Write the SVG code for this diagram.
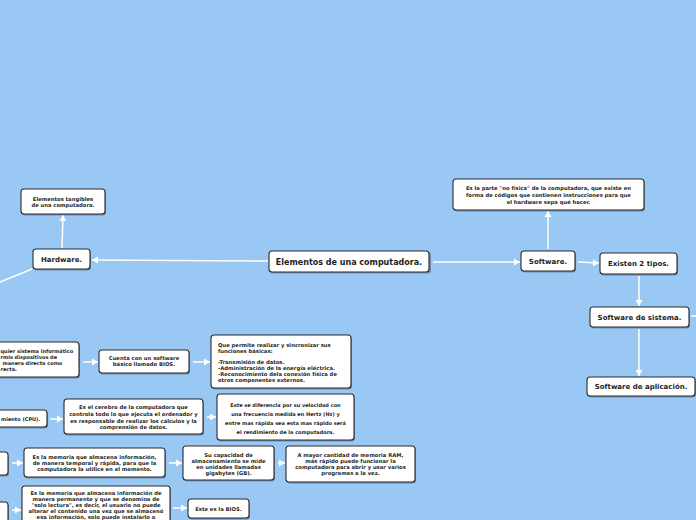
<svg xmlns="http://www.w3.org/2000/svg" width="696" height="520" viewBox="0 0 696 520">
<style>
.bx{fill:#fff;stroke:#2a2a2a;stroke-width:1.1}
.sh{fill:#3a4a5a;opacity:.45}
.t{font-family:"DejaVu Sans",Verdana,sans-serif;font-weight:bold;fill:#1e1e1e}
.s{font-size:5.25px;text-anchor:middle}
.v{font-size:5px}
.m{font-size:7px;text-anchor:middle}
.l{font-size:8px;text-anchor:middle}
.c line{stroke:#fff;stroke-width:1.5;fill:none}
</style>
<defs>
<marker id="ar" markerUnits="userSpaceOnUse" markerWidth="8" markerHeight="8" refX="6" refY="4" orient="auto">
<path d="M0,0.5 L6,4 L0,7.5 Z" fill="#fff"/>
</marker>
</defs>
<rect width="696" height="520" fill="#99C8F5"/>
<g class="c">
<line x1="268" y1="261" x2="92" y2="260" marker-end="url(#ar)"/>
<line x1="62" y1="248" x2="63" y2="215" marker-end="url(#ar)"/>
<line x1="32" y1="269" x2="0" y2="282"/>
<line x1="433" y1="262" x2="520" y2="262" marker-end="url(#ar)"/>
<line x1="548" y1="249" x2="548" y2="211" marker-end="url(#ar)"/>
<line x1="578" y1="262" x2="599" y2="263" marker-end="url(#ar)"/>
<line x1="639" y1="276" x2="639" y2="306" marker-end="url(#ar)"/>
<line x1="691" y1="316" x2="696" y2="316"/>
<line x1="639" y1="329" x2="639" y2="376" marker-end="url(#ar)"/>
<line x1="83" y1="362" x2="98" y2="362" marker-end="url(#ar)"/>
<line x1="193" y1="362" x2="210" y2="362" marker-end="url(#ar)"/>
<line x1="50" y1="419" x2="63" y2="419" marker-end="url(#ar)"/>
<line x1="207" y1="417" x2="216" y2="417" marker-end="url(#ar)"/>
<line x1="12" y1="463" x2="23" y2="463" marker-end="url(#ar)"/>
<line x1="169" y1="463" x2="182" y2="463" marker-end="url(#ar)"/>
<line x1="278" y1="463" x2="285" y2="463" marker-end="url(#ar)"/>
<line x1="12" y1="510" x2="21" y2="510" marker-end="url(#ar)"/>
<line x1="173" y1="508" x2="187" y2="508" marker-end="url(#ar)"/>
</g>
<g id="central">
<rect class="sh" x="270" y="252.5" width="161" height="21" rx="3"/>
<rect class="bx" x="269" y="251" width="160" height="21" rx="3"/>
<text class="t l" x="349" y="264.5">Elementos de una computadora.</text>
</g>
<g id="hardware">
<rect class="sh" x="34" y="250.5" width="57" height="20" rx="3"/>
<rect class="bx" x="33" y="249" width="57" height="20" rx="3"/>
<text class="t m" x="61.5" y="261.5">Hardware.</text>
</g>
<g id="tangibles">
<rect class="sh" x="22" y="190.5" width="84" height="25" rx="3"/>
<rect class="bx" x="21" y="189" width="84" height="25" rx="3"/>
<text class="t s" x="63" y="200.8">Elementos tangibles</text>
<text class="t s" x="63" y="206.6">de una computadora.</text>
</g>
<g id="software">
<rect class="sh" x="522" y="252.5" width="54" height="20" rx="3"/>
<rect class="bx" x="521" y="251" width="54" height="20" rx="3"/>
<text class="t m" x="548" y="263.5">Software.</text>
</g>
<g id="software-def">
<rect class="sh" x="454" y="180.5" width="191" height="31" rx="3"/>
<rect class="bx" x="453" y="179" width="191" height="31" rx="3"/>
<text class="t s" x="548.5" y="189.8">Es la parte "no física" de la computadora, que existe en</text>
<text class="t s" x="548.5" y="196.8">forma de códigos que contienen instrucciones para que</text>
<text class="t s" x="548.5" y="203.8">el hardware sepa qué hacer.</text>
</g>
<g id="existen">
<rect class="sh" x="601" y="254.5" width="77" height="21" rx="3"/>
<rect class="bx" x="600" y="253" width="77" height="21" rx="3"/>
<text class="t m" x="638.5" y="266">Existen 2 tipos.</text>
</g>
<g id="sistema">
<rect class="sh" x="591" y="308.5" width="99" height="20" rx="3"/>
<rect class="bx" x="590" y="307" width="99" height="20" rx="3"/>
<text class="t m" x="639.5" y="319.5">Software de sistema.</text>
</g>
<g id="aplicacion">
<rect class="sh" x="588" y="378.5" width="108" height="19" rx="3"/>
<rect class="bx" x="587" y="377" width="108" height="19" rx="3"/>
<text class="t m" x="641" y="389">Software de aplicación.</text>
</g>
<g id="placa">
<rect class="sh" x="-9" y="343.5" width="89" height="35" rx="3"/>
<rect class="bx" x="-10" y="342" width="89" height="35" rx="3"/>
<text class="t s v" x="0.5" y="352.8" style="text-anchor:start">quier sistema informático</text>
<text class="t s v" x="0.5" y="358.8" style="text-anchor:start">rmis dispositivos de</text>
<text class="t s v" x="2.5" y="364.8" style="text-anchor:start">manera directa como</text>
<text class="t s v" x="0.5" y="370.8" style="text-anchor:start">recta.</text>
</g>
<g id="cuenta">
<rect class="sh" x="100" y="351.5" width="90" height="23" rx="3"/>
<rect class="bx" x="99" y="350" width="90" height="23" rx="3"/>
<text class="t s" x="144" y="360">Cuenta con un software</text>
<text class="t s" x="144" y="366">básico llamado BIOS.</text>
</g>
<g id="funciones">
<rect class="sh" x="212" y="336.5" width="140" height="53" rx="3"/>
<rect class="bx" x="211" y="335" width="140" height="53" rx="3"/>
<text class="t s" x="218" y="347" style="text-anchor:start">Que permite realizar y sincronizar sus</text>
<text class="t s" x="218" y="353" style="text-anchor:start">funciones básicas:</text>
<text class="t s" x="218" y="364" style="text-anchor:start">-Transmisión de datos.</text>
<text class="t s" x="218" y="370" style="text-anchor:start">-Administración de la energía eléctrica.</text>
<text class="t s" x="218" y="376" style="text-anchor:start">-Reconocimiento dela conexión física de</text>
<text class="t s" x="218" y="382" style="text-anchor:start">otros componentes externos.</text>
</g>
<g id="cpu">
<rect class="sh" x="-9" y="411.5" width="57" height="17" rx="3"/>
<rect class="bx" x="-10" y="410" width="57" height="17" rx="3"/>
<text class="t s v" x="1" y="421" style="text-anchor:start">miento (CPU).</text>
</g>
<g id="cerebro">
<rect class="sh" x="65" y="400.5" width="139" height="35" rx="3"/>
<rect class="bx" x="64" y="399" width="139" height="35" rx="3"/>
<text class="t s" x="133.5" y="408.8">Es el cerebro de la computadora que</text>
<text class="t s" x="133.5" y="415.8">controla todo lo que ejecuta el ordenador y</text>
<text class="t s" x="133.5" y="422.6">es responsable de realizar los cálculos y la</text>
<text class="t s" x="133.5" y="429">comprensión de datos.</text>
</g>
<g id="velocidad">
<rect class="sh" x="218" y="395.5" width="137" height="46" rx="3"/>
<rect class="bx" x="217" y="394" width="137" height="46" rx="3"/>
<text class="t s v" x="285.5" y="407">Este se diferencia por su velocidad con</text>
<text class="t s v" x="285.5" y="416">una frecuencia  medida en Hertz (Hz) y</text>
<text class="t s v" x="285.5" y="425">entre mas rápida sea esta mas rápido será</text>
<text class="t s v" x="285.5" y="434">el rendimiento de la computadora.</text>
</g>
<g id="ram">
<rect class="sh" x="-9" y="453.5" width="18" height="23" rx="3"/>
<rect class="bx" x="-10" y="452" width="18" height="23" rx="3"/>
</g>
<g id="ram-def">
<rect class="sh" x="25" y="449.5" width="141" height="29" rx="3"/>
<rect class="bx" x="24" y="448" width="141" height="29" rx="3"/>
<text class="t s" x="94.5" y="459">Es la memoria que almacena información,</text>
<text class="t s" x="94.5" y="465">de manera temporal y rápida, para que la</text>
<text class="t s" x="94.5" y="471">computadora la utilice en el momento.</text>
</g>
<g id="capacidad">
<rect class="sh" x="184" y="447.5" width="91" height="34" rx="3"/>
<rect class="bx" x="183" y="446" width="91" height="34" rx="3"/>
<text class="t s" x="228.5" y="457">Su capacidad de</text>
<text class="t s" x="228.5" y="463">almacenamiento se mide</text>
<text class="t s" x="228.5" y="469">en unidades llamadas</text>
<text class="t s" x="228.5" y="475">gigabytes (GB).</text>
</g>
<g id="mayor">
<rect class="sh" x="287" y="447.5" width="129" height="36" rx="3"/>
<rect class="bx" x="286" y="446" width="129" height="36" rx="3"/>
<text class="t s" x="350.5" y="457">A mayor cantidad de memoria RAM,</text>
<text class="t s" x="350.5" y="463">más rápido puede funcionar la</text>
<text class="t s" x="350.5" y="469">computadora para abrir y usar varios</text>
<text class="t s" x="350.5" y="475">programas a la vez.</text>
</g>
<g id="rom">
<rect class="sh" x="-9" y="503.5" width="18" height="30" rx="3"/>
<rect class="bx" x="-10" y="502" width="18" height="30" rx="3"/>
</g>
<g id="rom-def">
<rect class="sh" x="23" y="487.5" width="148" height="44" rx="3"/>
<rect class="bx" x="22" y="486" width="148" height="44" rx="3"/>
<text class="t s" x="96" y="495">Es la memoria que almacena información de</text>
<text class="t s" x="96" y="501">manera permanente y que se denomina de</text>
<text class="t s" x="96" y="507">"solo lectura", es decir, el usuario no puede</text>
<text class="t s" x="96" y="513">alterar el contenido una vez que se almacenó</text>
<text class="t s" x="96" y="519">esa información, solo puede instalarlo o</text>
</g>
<g id="bios">
<rect class="sh" x="189" y="500.5" width="61" height="19" rx="3"/>
<rect class="bx" x="188" y="499" width="61" height="19" rx="3"/>
<text class="t s" x="218.5" y="510.5">Este es la BIOS.</text>
</g>
</svg>
